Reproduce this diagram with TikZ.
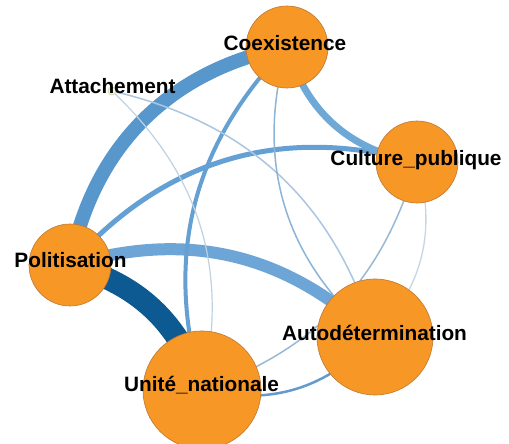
\documentclass[tikz,border=0pt]{standalone}
\usepackage{fontspec}
\setmainfont{Liberation Sans}
\pgfdeclarelayer{background}
\pgfsetlayers{background,main}
\definecolor{nodeorange}{RGB}{247,151,38}
\definecolor{nodeline}{RGB}{190,120,50}
\definecolor{eA}{RGB}{88,151,204}
\definecolor{eB}{RGB}{12,90,145}
\definecolor{eC}{RGB}{108,165,214}
\definecolor{eD}{RGB}{100,160,212}
\definecolor{eE}{RGB}{110,168,215}
\definecolor{eF}{RGB}{100,160,210}
\definecolor{eThinA}{RGB}{140,180,215}
\definecolor{eThinB}{RGB}{190,210,226}
\definecolor{eThinC}{RGB}{170,198,224}
\definecolor{eThinD}{RGB}{150,185,215}
\definecolor{eThinE}{RGB}{195,215,232}
\definecolor{eK}{RGB}{100,155,205}
\definecolor{attfill}{RGB}{245,245,225}
\definecolor{attline}{RGB}{215,215,170}
\tikzset{
  vertex/.style={circle, fill=nodeorange, draw=nodeline, line width=0.6pt, inner sep=0pt},
  smallvertex/.style={circle, fill=attfill, draw=attline, line width=0.8pt, inner sep=0pt, minimum size=8pt},
  lab/.style={font=\fontsize{20.8}{24}\selectfont\bfseries, inner sep=0pt, anchor=base},
  edge/.style={line cap=butt}
}
\begin{document}
\begin{tikzpicture}[x=1pt,y=1pt]
\useasboundingbox (0,0) rectangle (509,444);
% vertices
\node[vertex, minimum size=82pt] (coex) at (287,397) {};
\node[vertex, minimum size=82pt] (cult) at (417,282) {};
\node[vertex, minimum size=82pt] (polit) at (70,179) {};
\node[vertex, minimum size=118pt] (unite) at (202,54) {};
\node[vertex, minimum size=116pt] (auto) at (375,107) {};
\node[smallvertex] (attach) at (112,353) {};
% edges
\begin{pgfonlayer}{background}
\fill[white] (0,0) rectangle (509,444);
\draw[edge, eA, line width=14pt] (polit.center) to[bend left=34] (coex.center);
\draw[edge, eB, line width=22pt] (polit.center) to[bend left=28] (unite.center);
\draw[edge, eC, line width=12pt] (polit.center) to[bend left=30] (auto.center);
\draw[edge, eD, line width=5pt] (polit.center) to[bend left=32] (cult.center);
\draw[edge, eE, line width=7pt] (cult.center) to[bend left=32] (coex.center);
\draw[edge, eF, line width=4pt] (unite.center) to[bend left=30] (coex.center);
\draw[edge, eThinB, line width=1.2pt] (attach.center) to[bend left=30] (unite.center);
\draw[edge, eThinC, line width=1.5pt] (attach.center) to[bend left=30] (auto.center);
\draw[edge, eThinA, line width=1.5pt] (auto.center) to[bend left=33] (coex.center);
\draw[edge, eThinD, line width=1.5pt] (cult.center) to[bend left=27] (unite.center);
\draw[edge, eThinE, line width=1.3pt] (cult.center) to[bend left=30] (auto.center);
\draw[edge, eK, line width=2.5pt] (auto.center) to[bend left=30] (unite.center);
\end{pgfonlayer}
% labels
\node[lab] (lcoex) at (285,393) {Coexistence};
\node[lab] (lcult) at (416,278) {Culture\_publique};
\node[lab] (lpolit) at (70.5,176) {Politisation};
\node[lab] (lunite) at (201.5,52) {Unité\_nationale};
\node[lab] (lauto) at (374.5,103) {Autodétermination};
\node[lab] (lattach) at (112.5,350) {Attachement};
\end{tikzpicture}
\end{document}
